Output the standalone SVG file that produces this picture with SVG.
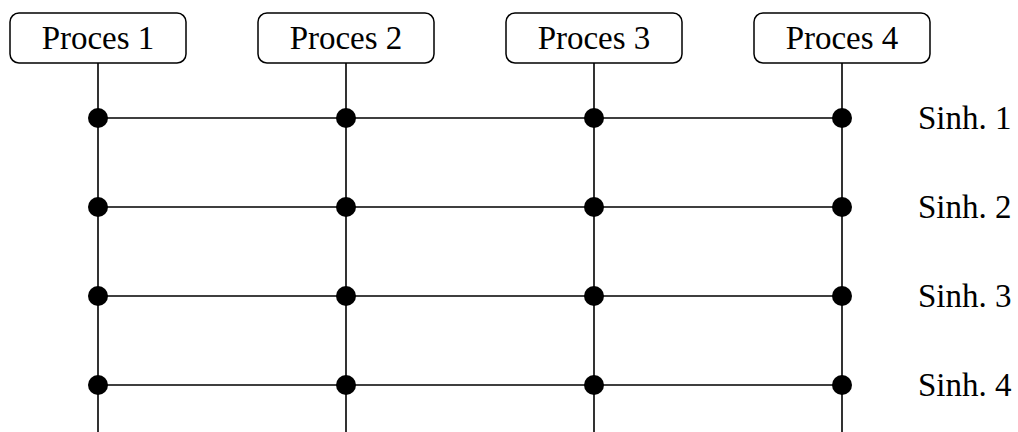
<svg xmlns="http://www.w3.org/2000/svg" width="1018" height="432" viewBox="0 0 1018 432">
<style>
.box{fill:#fff;stroke:#000;stroke-width:1.5}
.ln{stroke:#000;stroke-width:1.6;fill:none}
.dot{fill:#000}
text{font-family:"Liberation Serif","DejaVu Serif",serif;font-size:33px;fill:#000}
.c{text-anchor:middle}
</style>
<rect width="1018" height="432" fill="#fff"/>
<g id="connectors">
<path class="ln" d="M98 63V432M346 63V432M594 63V432M842 63V432"/>
<path class="ln" d="M98 118H842M98 207H842M98 296H842M98 385H842"/>
</g>
<g id="dots">
<circle class="dot" cx="98" cy="118" r="10"/><circle class="dot" cx="346" cy="118" r="10"/><circle class="dot" cx="594" cy="118" r="10"/><circle class="dot" cx="842" cy="118" r="10"/>
<circle class="dot" cx="98" cy="207" r="10"/><circle class="dot" cx="346" cy="207" r="10"/><circle class="dot" cx="594" cy="207" r="10"/><circle class="dot" cx="842" cy="207" r="10"/>
<circle class="dot" cx="98" cy="296" r="10"/><circle class="dot" cx="346" cy="296" r="10"/><circle class="dot" cx="594" cy="296" r="10"/><circle class="dot" cx="842" cy="296" r="10"/>
<circle class="dot" cx="98" cy="385" r="10"/><circle class="dot" cx="346" cy="385" r="10"/><circle class="dot" cx="594" cy="385" r="10"/><circle class="dot" cx="842" cy="385" r="10"/>
</g>
<g id="p1"><rect class="box" x="10" y="13" width="176" height="50" rx="9"/><text class="c" x="98" y="49">Proces 1</text></g>
<g id="p2"><rect class="box" x="258" y="13" width="176" height="50" rx="9"/><text class="c" x="346" y="49">Proces 2</text></g>
<g id="p3"><rect class="box" x="506" y="13" width="176" height="50" rx="9"/><text class="c" x="594" y="49">Proces 3</text></g>
<g id="p4"><rect class="box" x="754" y="13" width="176" height="50" rx="9"/><text class="c" x="842" y="49">Proces 4</text></g>
<g id="labels">
<text x="918" y="129">Sinh. 1</text>
<text x="918" y="218">Sinh. 2</text>
<text x="918" y="307">Sinh. 3</text>
<text x="918" y="396">Sinh. 4</text>
</g>
</svg>
